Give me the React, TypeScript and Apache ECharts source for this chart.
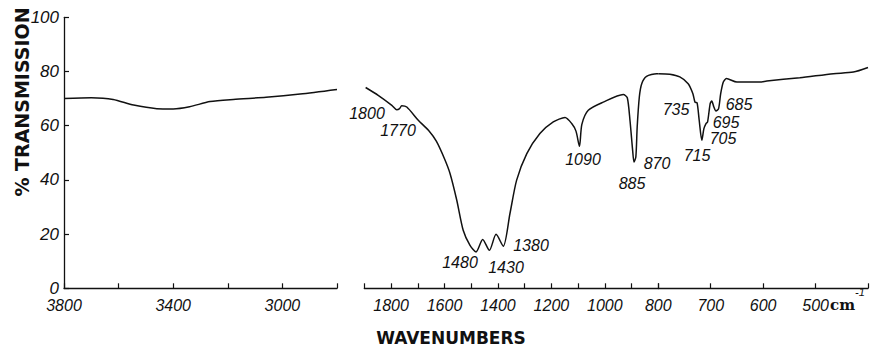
import React, { useEffect, useRef } from "react";
import * as echarts from "echarts";

// ---- data ----
// left panel: 3800 - 2800 cm-1
const leftWavenumbers = [3800, 3700, 3620, 3545, 3460, 3400, 3340, 3265, 3180, 3060, 2935, 2800];
const leftTransmission = [70, 70.3, 69.7, 67.6, 66.3, 66.2, 67, 68.9, 69.7, 70.5, 71.7, 73.4];

// right panel, first scale: 1900 - 800 cm-1
const midWavenumbers = [
  1895, 1848, 1797, 1779, 1768, 1760, 1741, 1698, 1660, 1630, 1600, 1579, 1554, 1530, 1505, 1482,
  1457, 1432, 1407, 1380, 1355, 1330, 1292, 1243, 1193, 1149, 1124, 1108, 1095, 1086, 1062, 1006,
  931, 916, 906, 896, 891, 884, 879, 871, 862, 844, 806, 800,
];
const midTransmission = [
  74.1, 71.2, 67.5, 65.9, 66.3, 67.4, 66.9, 62, 58.3, 54.2, 47.8, 42.3, 32.5, 21.4, 15.9, 13.4,
  18, 14, 19.9, 15.5, 27.6, 39.9, 49.7, 57.1, 61.4, 63, 60.8, 58, 52.4, 60.5, 65.7, 68.7,
  71.5, 70.3, 62, 50.9, 46.6, 48.5, 59.5, 70.6, 75.5, 78.2, 79.2, 79.2,
];

// right panel, second scale: 800 - 400 cm-1
const lowWavenumbers = [
  800, 778, 759, 743, 734, 730, 726, 722, 717, 713, 709, 706, 701, 698, 694, 690, 685, 681, 676,
  670, 650, 606, 593, 530, 466, 428, 400,
];
const lowTransmission = [
  79.2, 79, 78, 75.5, 71.8, 68.7, 68.4, 62, 54.6, 58.9, 60.8, 61.4, 68.2, 69.1, 66.9, 65.4, 66.3,
  71.8, 76.1, 77.4, 76.1, 76.1, 76.5, 77.7, 79.2, 79.8, 81.5,
];

// tick labels
const leftTickLabels = [3800, 3400, 3000];
const midTickLabels = [1800, 1600, 1400, 1200, 1000, 800];
const lowTickLabels = [700, 600, 500];

// peak annotations
const peakLabels = ["1800", "1770", "1480", "1430", "1380", "1090", "885", "870", "735", "715", "685", "695", "705"];

// ---- layout (pixels) ----
const peakLabelPositions: [number, number][] = [
  [367, 113], [398, 130], [460, 262], [506, 267], [531, 245], [583, 159], [632, 183],
  [657, 163], [676, 109], [697, 155], [739, 104], [726, 122], [723, 138],
];

const TOP = 17.3;
const HEIGHT = 271;
const numFont = "'Liberation Sans', Arial, sans-serif";

const zip = (xs: number[], ys: number[]) => xs.map((x, i) => [x, ys[i]]);

function xAxisFor(gridIndex: number, min: number, max: number, labels: number[]) {
  return {
    type: "value",
    gridIndex,
    inverse: true,
    min,
    max,
    interval: gridIndex === 0 ? 200 : 100,
    axisLine: { show: true, onZero: false, lineStyle: { color: "#111", width: 1.3 } },
    axisTick: { show: true, inside: true, length: 5, lineStyle: { color: "#111", width: 1.2 } },
    splitLine: { show: false },
    axisLabel: {
      show: true,
      margin: 9,
      showMinLabel: true,
      showMaxLabel: true,
      formatter: (v: number) => (labels.includes(v) ? String(v) : ""),
      fontFamily: numFont,
      fontStyle: "italic",
      fontSize: 16,
      lineHeight: 16,
      color: "#111",
    },
  };
}

function yAxisFor(gridIndex: number, visible: boolean) {
  return {
    type: "value",
    gridIndex,
    min: 0,
    max: 100,
    interval: 20,
    show: visible,
    axisLine: { show: visible, lineStyle: { color: "#111", width: 1.3 } },
    axisTick: { show: visible, inside: true, length: 5, lineStyle: { color: "#111", width: 1.2 } },
    splitLine: { show: false },
    axisLabel: {
      show: visible,
      margin: 5,
      fontFamily: numFont,
      fontStyle: "italic",
      fontSize: 17,
      lineHeight: 15,
      color: "#111",
    },
  };
}

function lineSeries(idx: number, data: number[][]) {
  return {
    type: "line",
    xAxisIndex: idx,
    yAxisIndex: idx,
    data,
    showSymbol: false,
    symbol: "none",
    smooth: 0.25,
    lineStyle: { color: "#111", width: 1.5 },
    silent: true,
  };
}

export default function App() {
  const ref = useRef<HTMLDivElement>(null);

  useEffect(() => {
    if (!ref.current) return;
    const chart = echarts.init(ref.current, undefined, { renderer: "svg" });

    const annotationTexts = peakLabels.map((t, i) => ({
      type: "text",
      x: peakLabelPositions[i][0],
      y: peakLabelPositions[i][1],
      style: {
        text: t,
        fill: "#111",
        font: `italic 16px ${numFont}`,
        align: "center",
        verticalAlign: "middle",
      },
    }));

    chart.setOption({
      animation: false,
      backgroundColor: "#ffffff",
      grid: [
        { left: 64, top: TOP, width: 273, height: HEIGHT, outerBoundsMode: "none" },
        { left: 364.3, top: TOP, width: 294, height: HEIGHT, outerBoundsMode: "none" },
        { left: 658.3, top: TOP, width: 209.7, height: HEIGHT, outerBoundsMode: "none" },
      ],
      xAxis: [
        xAxisFor(0, 2800, 3800, leftTickLabels),
        xAxisFor(1, 800, 1900, midTickLabels),
        xAxisFor(2, 400, 800, lowTickLabels),
      ],
      yAxis: [yAxisFor(0, true), yAxisFor(1, false), yAxisFor(2, false)],
      series: [
        lineSeries(0, zip(leftWavenumbers, leftTransmission)),
        lineSeries(1, zip(midWavenumbers, midTransmission)),
        lineSeries(2, zip(lowWavenumbers, lowTransmission)),
      ],
      graphic: [
        {
          type: "text",
          x: 22,
          y: 102,
          rotation: Math.PI / 2,
          style: {
            text: "% TRANSMISSION",
            fill: "#111",
            font: "bold 19px 'DejaVu Sans', sans-serif",
            align: "center",
            verticalAlign: "middle",
          },
        },
        {
          type: "text",
          x: 451,
          y: 338,
          style: {
            text: "WAVENUMBERS",
            fill: "#111",
            font: "bold 17px 'DejaVu Sans', sans-serif",
            align: "center",
            verticalAlign: "middle",
          },
        },
        {
          type: "text",
          x: 830,
          y: 305,
          style: {
            text: "cm",
            fill: "#111",
            font: "bold 15px 'DejaVu Serif', serif",
            align: "left",
            verticalAlign: "middle",
          },
        },
        {
          type: "text",
          x: 855,
          y: 292,
          style: {
            text: "-1",
            fill: "#111",
            font: `italic 11px ${numFont}`,
            align: "left",
            verticalAlign: "middle",
          },
        },
        ...annotationTexts,
      ],
    });

    return () => chart.dispose();
  }, []);

  return (
    <div
      ref={ref}
      style={{ position: "fixed", left: 0, top: 0, width: 873, height: 349, background: "#fff" }}
    />
  );
}
